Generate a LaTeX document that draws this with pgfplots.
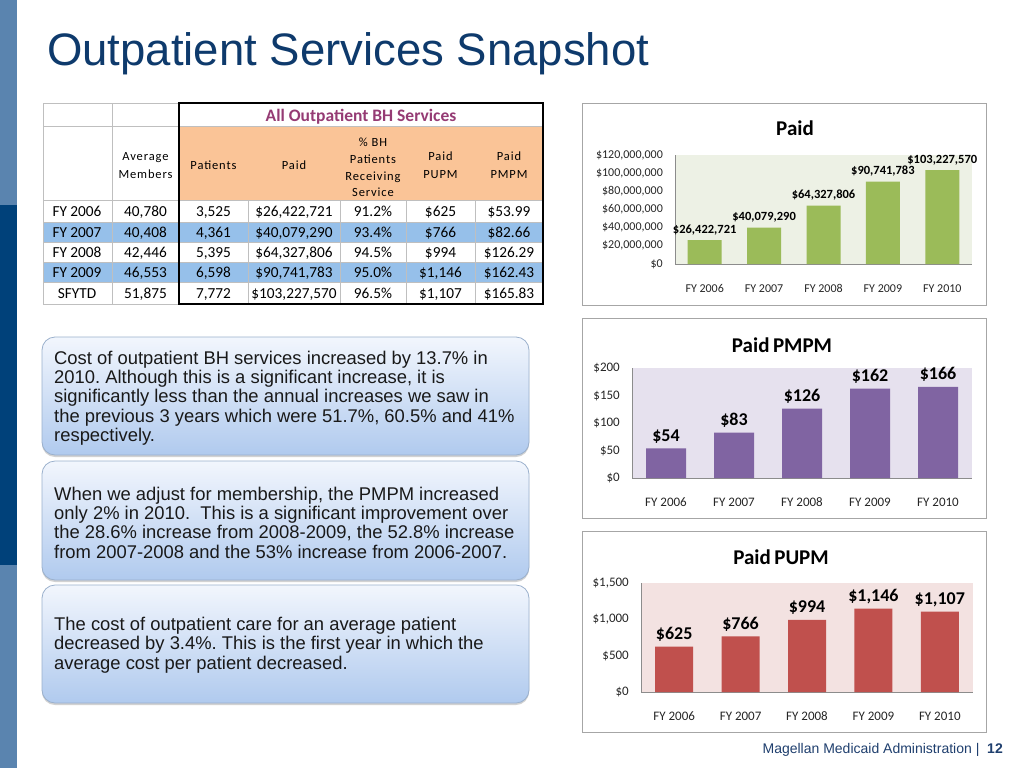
\documentclass[border=0pt]{standalone}
\usepackage{fontspec}
\setmainfont{Liberation Sans}
\newfontfamily\calfont{Carlito}
\usepackage{pgfplots}
\pgfplotsset{compat=1.18}
\usetikzlibrary{shadows}
\frenchspacing

\definecolor{sideLight}{HTML}{5A84AF}
\definecolor{sideDark}{HTML}{00417A}
\definecolor{titleBlue}{HTML}{0E3A6C}
\definecolor{hdrOrange}{HTML}{FAC497}
\definecolor{rowBlue}{HTML}{96C0EA}
\definecolor{hdrPurple}{HTML}{953B74}
\definecolor{gridGray}{HTML}{BFBFBF}
\definecolor{barGreen}{HTML}{9BBB59}
\definecolor{barPurple}{HTML}{8064A2}
\definecolor{barRed}{HTML}{C0504D}
\definecolor{bgGreen}{HTML}{EDF1E5}
\definecolor{bgPurple}{HTML}{E6E1EE}
\definecolor{bgRed}{HTML}{F3E2E1}
\definecolor{boxTop}{HTML}{F2F6FD}
\definecolor{boxBot}{HTML}{B0CAEE}
\definecolor{boxLine}{HTML}{9AB0CC}
\definecolor{frameGray}{HTML}{A6A6A6}
\definecolor{axGray}{HTML}{8C8C8C}
\definecolor{footBlue}{HTML}{1F3F6E}

\pgfplotsset{
  snap/.style={
    scale only axis, ybar, anchor=south west,
    axis lines*=left, axis line style={draw=axGray, line width=0.6pt},
    tick style={draw=none},
    xmin=-0.5, xmax=4.5, ymin=0, enlargelimits=false,
    xtick={0,...,4}, xticklabels={FY 2006,FY 2007,FY 2008,FY 2009,FY 2010},
    scaled y ticks=false,
    ticklabel style={font=\calfont\fontsize{12}{14}\selectfont, text=black!85},
    yticklabel style={inner sep=0pt, anchor=east},
    yticklabel shift=12pt,
    xticklabel style={inner sep=0pt, anchor=base, yshift=-24pt},
    point meta=explicit symbolic,
    nodes near coords,
    every node near coord/.append style={anchor=base, inner sep=0pt, yshift=7pt, text=black},
  }
}

\newcommand{\trow}[8]{% y-baseline, 7 cells
  \node[anchor=base] at (77,#1) {#2};
  \node[anchor=base] at (145.5,#1) {#3};
  \node[anchor=base] at (213.5,#1) {#4};
  \node[anchor=base] at (294,#1) {#5};
  \node[anchor=base] at (373,#1) {#6};
  \node[anchor=base] at (440.5,#1) {#7};
  \node[anchor=base] at (509,#1) {#8};
}

\begin{document}
\begin{tikzpicture}
\begin{scope}[x=1pt, y=-1pt]
  % page
  \fill[white] (0,0) rectangle (1024,768);
  \fill[sideLight] (0,0) rectangle (17,768);
  \fill[sideDark] (0,205) rectangle (17,565);

  % title
  \node[anchor=base west, inner sep=0pt, text=titleBlue, font=\fontsize{45.5}{54}\selectfont] at (47,65) {Outpatient Services Snapshot};

  % table
  \fill[hdrOrange] (179,126) rectangle (543,200);
  \fill[rowBlue] (43,222) rectangle (543,242);
  \fill[rowBlue] (43,262) rectangle (543,282);
  \draw[gridGray, line width=0.6pt] (43,103) rectangle (179,304);
  \draw[gridGray, line width=0.6pt] (112,103) -- (112,304);
  \foreach \yy in {126,200,222,242,262,282} \draw[gridGray, line width=0.6pt] (43,\yy) -- (543,\yy);
  \foreach \xx in {248,340,406,475} \draw[gridGray, line width=0.6pt] (\xx,200) -- (\xx,304);
  \draw[black, line width=2pt] (179,103) rectangle (543,304);
  \begin{scope}[every node/.style={font=\calfont\fontsize{15.3}{18}\selectfont, inner sep=0pt}]
    \trow{216.5}{FY 2006}{40,780}{3,525}{\$26,422,721}{91.2\%}{\$625}{\$53.99}
    \trow{237}{FY 2007}{40,408}{4,361}{\$40,079,290}{93.4\%}{\$766}{\$82.66}
    \trow{257}{FY 2008}{42,446}{5,395}{\$64,327,806}{94.5\%}{\$994}{\$126.29}
    \trow{277}{FY 2009}{46,553}{6,598}{\$90,741,783}{95.0\%}{\$1,146}{\$162.43}
    \trow{298}{SFYTD}{51,875}{7,772}{\$103,227,570}{96.5\%}{\$1,107}{\$165.83}
  \end{scope}
  \node[anchor=base, inner sep=0pt, text=hdrPurple, font=\calfont\bfseries\fontsize{17.5}{20}\selectfont] at (361,121) {All Outpatient BH Services};
  \begin{scope}[every node/.style={anchor=base, inner sep=0pt, font=\calfont\addfontfeature{LetterSpace=7}\fontsize{12.5}{15}\selectfont}]
    \node at (145.5,160) {Average};
    \node at (145.5,178) {Members};
    \node at (213.5,169.5) {Patients};
    \node at (294,169.5) {Paid};
    \node at (373,146) {\% BH};
    \node at (373,163) {Patients};
    \node at (373,180) {Receiving};
    \node at (373,196.5) {Service};
    \node at (440.5,160) {Paid};
    \node at (440.5,178) {PUPM};
    \node at (509,160) {Paid};
    \node at (509,178) {PMPM};
  \end{scope}

  % chart frames and titles
  \draw[frameGray, line width=0.7pt] (582,103) rectangle (986,305);
  \draw[frameGray, line width=0.7pt] (582,318) rectangle (986,518);
  \draw[frameGray, line width=0.7pt] (582,531) rectangle (986,732);
  \begin{scope}[every node/.style={anchor=base, inner sep=0pt, font=\calfont\bfseries\fontsize{21}{24}\selectfont}]
    \node at (795,135) {Paid};
    \node at (782,352) {Paid\,PMPM};
    \node at (781,564) {Paid\,PUPM};
  \end{scope}

  % text boxes
  \foreach \ya/\yb in {337/455, 461/580, 585/703}
    \draw[boxLine, line width=0.8pt, rounded corners=13pt, top color=boxTop, bottom color=boxBot,
          drop shadow={shadow xshift=0pt, shadow yshift=-2pt, opacity=0.35}] (42,\ya) rectangle (529,\yb);
  \begin{scope}[every node/.style={anchor=base west, inner sep=0pt, text=black!90, font=\fontsize{18.4}{19.3}\selectfont}]
    \node at (54,364) {Cost of outpatient BH services increased by 13.7\% in};
    \node at (54,383) {2010. Although this is a significant increase, it is};
    \node at (54,402) {significantly less than the annual increases we saw in};
    \node at (54,422) {the previous 3 years which were 51.7\%, 60.5\% and 41\%};
    \node at (54,441) {respectively.};
    \node at (54,500) {When we adjust for membership, the PMPM increased};
    \node at (54,519) {only 2\% in 2010.\ \ This is a significant improvement over};
    \node at (54,538) {the 28.6\% increase from 2008-2009, the 52.8\% increase};
    \node at (54,558) {from 2007-2008 and the 53\% increase from 2006-2007.};
    \node at (54,630) {The cost of outpatient care for an average patient};
    \node at (54,649) {decreased by 3.4\%. This is the first year in which the};
    \node at (54,669) {average cost per patient decreased.};
  \end{scope}

  % footer
  \node[anchor=base east, inner sep=0pt, text=footBlue, font=\fontsize{14}{16}\selectfont] at (1003,753) {Magellan Medicaid Administration |\ \ \textbf{12}};
\end{scope}

% Paid
\begin{axis}[snap, at={(675pt,-264pt)}, width=297pt, height=109pt,
  ymax=120000000, bar width=34pt,
  axis background/.style={fill=bgGreen},
  ytick={0,20000000,40000000,60000000,80000000,100000000,120000000},
  yticklabels={\$0,{\$20,000,000},{\$40,000,000},{\$60,000,000},{\$80,000,000},{\$100,000,000},{\$120,000,000}},
  every node near coord/.append style={font=\calfont\bfseries\fontsize{12.5}{15}\selectfont}]
\addplot[fill=barGreen, draw=none] coordinates {
  (0,26422721) [{\$26,422,721}]
  (1,40079290) [{\$40,079,290}]
  (2,64327806) [{\$64,327,806}]
  (3,90741783) [{\$90,741,783}]
  (4,103227570) [{\$103,227,570}]
};
\end{axis}

% Paid PMPM
\begin{axis}[snap, at={(632pt,-478pt)}, width=340pt, height=110pt,
  ymax=200, bar width=40pt,
  axis background/.style={fill=bgPurple},
  ytick={0,50,100,150,200},
  yticklabels={\$0,\$50,\$100,\$150,\$200},
  ticklabel style={font=\calfont\fontsize{13}{15}\selectfont},
  every node near coord/.append style={font=\calfont\bfseries\fontsize{18}{21}\selectfont}]
\addplot[fill=barPurple, draw=none] coordinates {
  (0,53.99) [\$54]
  (1,82.66) [\$83]
  (2,126.29) [\$126]
  (3,162.43) [\$162]
  (4,165.83) [\$166]
};
\end{axis}

% Paid PUPM
\begin{axis}[snap, at={(641pt,-692pt)}, width=332pt, height=109pt,
  ymax=1500, bar width=38pt,
  axis background/.style={fill=bgRed},
  ytick={0,500,1000,1500},
  yticklabels={\$0,\$500,{\$1,000},{\$1,500}},
  ticklabel style={font=\calfont\fontsize{13}{15}\selectfont},
  every node near coord/.append style={font=\calfont\bfseries\fontsize{18}{21}\selectfont}]
\addplot[fill=barRed, draw=none] coordinates {
  (0,625) [\$625]
  (1,766) [\$766]
  (2,994) [\$994]
  (3,1146) [{\$1,146}]
  (4,1107) [{\$1,107}]
};
\end{axis}
\end{tikzpicture}
\end{document}
